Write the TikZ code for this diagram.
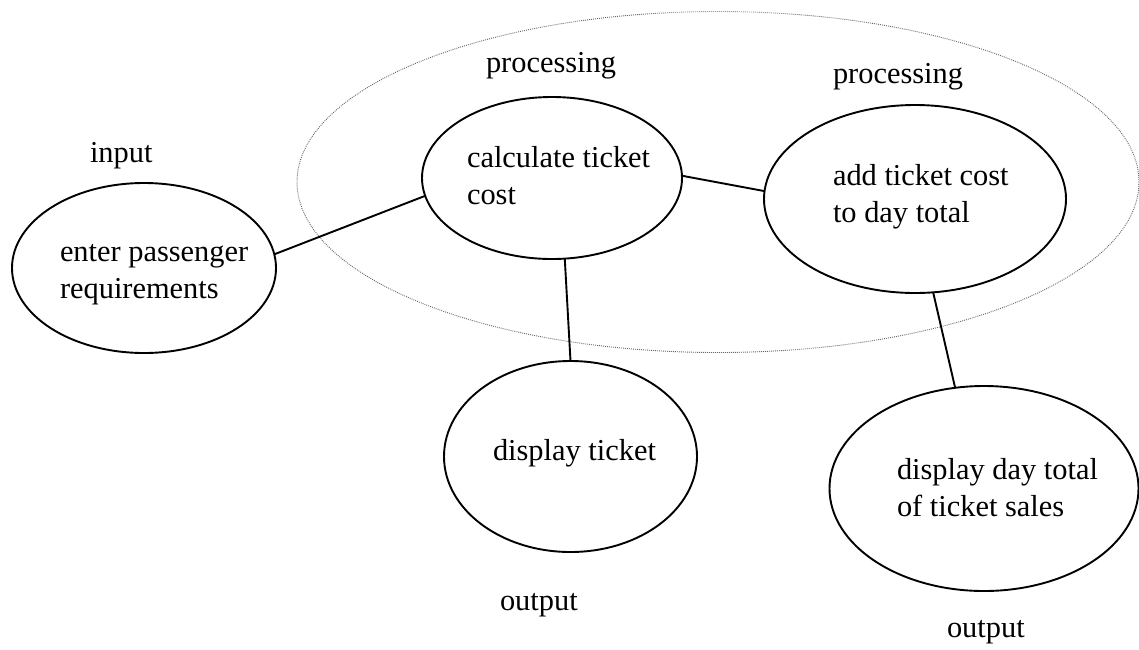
\documentclass[tikz,border=0pt]{standalone}
\usepackage{fontspec}
\setmainfont{Liberation Serif}
\usetikzlibrary{shapes.geometric}
\newcommand\lbfont{\fontsize{30.4}{36.5}\selectfont}
\tikzset{
  bubble/.style={draw=black, ellipse, line width=1.9pt, inner sep=0pt, outer sep=0pt},
  group/.style={draw=black!60, ellipse, line width=0.9pt, dash pattern=on 0.9pt off 1.1pt, inner sep=0pt, outer sep=0pt},
  link/.style={draw=black, line width=1.9pt},
  lbl/.style={font=\lbfont, align=left, inner sep=0pt, outer sep=0pt, anchor=base west},
}
\begin{document}
\begin{tikzpicture}[x=1pt,y=-1pt]
\useasboundingbox (0,0) rectangle (1139,649);
\fill[white] (0,0) rectangle (1139,649);

% dotted outline grouping the processing steps
\node[group, minimum width=842pt, minimum height=341pt] (proc) at (718,182) {};

% process bubbles
\node[bubble, minimum width=264pt, minimum height=170pt] (enter) at (144,268) {};
\node[bubble, minimum width=260pt, minimum height=162pt] (calc) at (552,178) {};
\node[bubble, minimum width=302pt, minimum height=188pt] (add) at (915,199) {};
\node[bubble, minimum width=253pt, minimum height=191pt] (tick) at (570.5,456.5) {};
\node[bubble, minimum width=309pt, minimum height=205pt] (day) at (984,488.5) {};

% bubble texts (base anchor sits on the last line)
\node[lbl] (tenter) at (60,298) {enter passenger\\requirements};
\node[lbl] (tcalc) at (467,204) {calculate ticket\\cost};
\node[lbl] (tadd) at (833,222) {add ticket cost\\to day total};
\node[lbl] (ttick) at (493,460) {display ticket};
\node[lbl] (tday) at (897,516) {display day total\\of ticket sales};

% category labels
\node[lbl] (linput) at (90,162) {input};
\node[lbl] (lproc1) at (486,72) {processing};
\node[lbl] (lproc2) at (833,83) {processing};
\node[lbl] (lout1) at (500,610) {output};
\node[lbl] (lout2) at (947,637) {output};

% connectors
\draw[link] (enter.6) -- (calc.188);
\draw[link] (calc.1) -- (add.177);
\draw[link] (calc.279) -- (tick.90);
\draw[link] (add.281) -- (day.106);
\end{tikzpicture}
\end{document}
